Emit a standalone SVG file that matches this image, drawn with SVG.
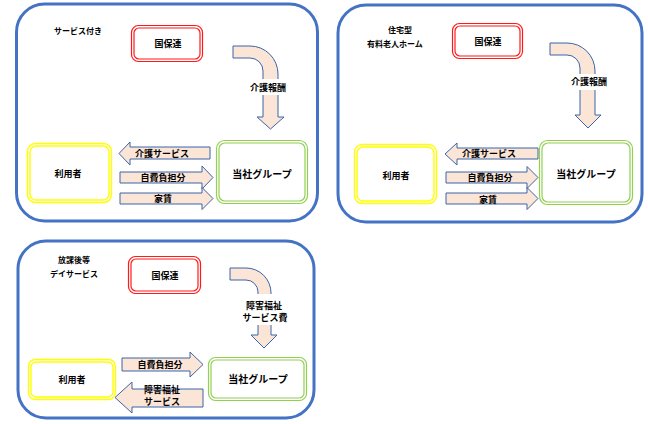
<svg xmlns="http://www.w3.org/2000/svg" width="648" height="424" viewBox="0 0 648 424">
<style>
text{font-family:"Noto Sans CJK JP","Noto Sans",sans-serif;font-weight:700;fill:#000;text-anchor:middle;dominant-baseline:central;font-size:9px}
.ttl{font-size:8px}
.big{font-size:10px}
.panel{fill:#fff;stroke:#4472C4;stroke-width:3}
.red{fill:none;stroke:#FF1A1A;stroke-width:1.2}
.yel{fill:none;stroke:#FFFF00;stroke-width:1.4}
.grn{fill:none;stroke:#92D050;stroke-width:1.2}
.arr{fill:#FBE5D6;stroke:#3B64A8;stroke-width:1}
.lbg{fill:#fff;stroke:none}
</style>
<rect width="648" height="424" fill="#fff"/>

<g id="panel1">
<rect class="panel" x="16.5" y="4" width="301" height="217" rx="28"/>
<text class="ttl" x="78" y="30">サービス付き</text>
</g>
<g id="panel2">
<rect class="panel" x="338" y="5" width="304" height="217" rx="28"/>
<text class="ttl" x="400" y="29">住宅型</text>
<text class="ttl" x="395" y="43">有料老人ホーム</text>
</g>
<g id="panel3">
<rect class="panel" x="18" y="241" width="296" height="177" rx="28"/>
<text class="ttl" x="74" y="259">放課後等</text>
<text class="ttl" x="74" y="273">デイサービス</text>
</g>

<g id="kokuhoren1">
<rect class="red" x="131.5" y="25.5" width="71" height="36" rx="7"/>
<rect class="red" x="134" y="28" width="66" height="31" rx="5"/>
<text x="168" y="43">国保連</text>
</g>
<g id="riyousha1">
<rect class="yel" x="27.5" y="143.5" width="84" height="59" rx="8"/>
<rect class="yel" x="30" y="146" width="79" height="54" rx="6"/>
<text x="68" y="173">利用者</text>
</g>
<g id="tousha1">
<rect class="grn" x="216.5" y="140.5" width="91" height="63" rx="8"/>
<rect class="grn" x="219" y="143" width="86" height="58" rx="6"/>
<text class="big" x="262" y="173">当社グループ</text>
</g>

<g id="kokuhoren2">
<rect class="red" x="452.5" y="23.5" width="70" height="35" rx="7"/>
<rect class="red" x="455" y="26" width="65" height="30" rx="5"/>
<text x="488" y="41">国保連</text>
</g>
<g id="riyousha2">
<rect class="yel" x="354.5" y="144.5" width="82" height="59" rx="8"/>
<rect class="yel" x="357" y="147" width="77" height="54" rx="6"/>
<text x="396" y="175">利用者</text>
</g>
<g id="tousha2">
<rect class="grn" x="539.5" y="140.5" width="93" height="64" rx="8"/>
<rect class="grn" x="542" y="143" width="88" height="59" rx="6"/>
<text class="big" x="586" y="173">当社グループ</text>
</g>

<g id="kokuhoren3">
<rect class="red" x="128.5" y="256.5" width="72" height="37" rx="7"/>
<rect class="red" x="131" y="259" width="67" height="32" rx="5"/>
<text x="165" y="275">国保連</text>
</g>
<g id="riyousha3">
<rect class="yel" x="28.5" y="359.5" width="87" height="40" rx="7"/>
<rect class="yel" x="31" y="362" width="82" height="35" rx="5"/>
<text x="72" y="379">利用者</text>
</g>
<g id="tousha3">
<rect class="grn" x="208.5" y="357.5" width="98" height="43" rx="7"/>
<rect class="grn" x="211" y="360" width="93" height="38" rx="5"/>
<text class="big" x="258" y="378">当社グループ</text>
</g>

<g id="connectors">
<!-- panel 1 -->
<path class="arr" d="M233,46 H250 A28,28 0 0 1 278,74 V117 H284 L270.5,129 L257,117 H263 V71 A13,13 0 0 0 250,58 H233 Z"/>
<rect class="lbg" x="247" y="79" width="43" height="16"/>
<text x="268" y="87">介護報酬</text>
<path class="arr" d="M210,147 H130 V142 L119,153.5 L130,165 V159 H210 Z"/>
<text x="162" y="153">介護サービス</text>
<path class="arr" d="M120,172 H202 V166 L213,177.5 L202,189 V183 H120 Z"/>
<text x="163" y="177.5">自費負担分</text>
<path class="arr" d="M120,193 H202 V187.5 L213,198.5 L202,209.5 V204 H120 Z"/>
<text x="163" y="198.5">家賃</text>

<!-- panel 2 -->
<path class="arr" d="M550,43 H567 A28,28 0 0 1 595,71 V115 H601 L588,128 L575,115 H580 V68 A13,13 0 0 0 567,55 H550 Z"/>
<rect class="lbg" x="567" y="74" width="43" height="16"/>
<text x="589" y="81">介護報酬</text>
<path class="arr" d="M538,148 H457 V143 L445,154 L457,165 V159 H538 Z"/>
<text x="489" y="153.5">介護サービス</text>
<path class="arr" d="M446,172 H527 V166.5 L538,177.5 L527,188.5 V183 H446 Z"/>
<text x="490" y="177.5">自費負担分</text>
<path class="arr" d="M446,193 H527 V187.5 L538,198.5 L527,209.5 V204 H446 Z"/>
<text x="488" y="199">家賃</text>

<!-- panel 3 -->
<path class="arr" d="M230,268 H246 A25,25 0 0 1 271,293 V335 H277 L264,348 L251,335 H258 V292 A12,12 0 0 0 246,280 H230 Z"/>
<rect class="lbg" x="238" y="294" width="54" height="31"/>
<text x="264" y="305">障害福祉</text>
<text x="265" y="317">サービス費</text>
<path class="arr" d="M122,358 H190 V352 L203,364.5 L190,377 V371 H122 Z"/>
<text x="160" y="364">自費負担分</text>
<path class="arr" d="M203,389 H132 V382 L115,397.5 L132,413 V407 H203 Z"/>
<text x="162" y="389">障害福祉</text>
<text x="162" y="401">サービス</text>
</g>
</svg>
